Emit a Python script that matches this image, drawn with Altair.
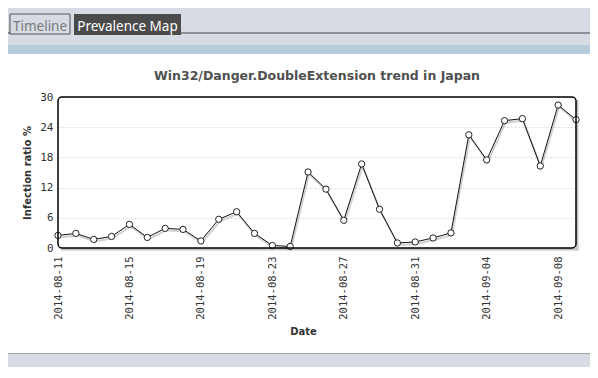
import altair as alt
import pandas as pd

dates = ["2014-08-11", "2014-08-12", "2014-08-13", "2014-08-14", "2014-08-15",
         "2014-08-16", "2014-08-17", "2014-08-18", "2014-08-19", "2014-08-20",
         "2014-08-21", "2014-08-22", "2014-08-23", "2014-08-24", "2014-08-25",
         "2014-08-26", "2014-08-27", "2014-08-28", "2014-08-29", "2014-08-30",
         "2014-08-31", "2014-09-01", "2014-09-02", "2014-09-03", "2014-09-04",
         "2014-09-05", "2014-09-06", "2014-09-07", "2014-09-08", "2014-09-09"]
ratios = [2.5, 2.9, 1.7, 2.3, 4.7, 2.1, 3.9, 3.7, 1.4, 5.7,
          7.2, 2.9, 0.5, 0.3, 15.1, 11.7, 5.5, 16.7, 7.7, 1.0,
          1.2, 2.0, 3.0, 22.5, 17.5, 25.3, 25.7, 16.3, 28.4, 25.5]
x_ticks = ["2014-08-11", "2014-08-15", "2014-08-19", "2014-08-23",
           "2014-08-27", "2014-08-31", "2014-09-04", "2014-09-08"]
y_ticks = [0, 6, 12, 18, 24, 30]

title_text = "Win32/Danger.DoubleExtension trend in Japan"
tab_labels = ["Timeline", "Prevalence Map"]

W, H = 518, 151
GRAY = "#d6dbe4"
df = pd.DataFrame({"Date": dates, "ratio": ratios})
one = alt.Data(values=[{"k": 0}])

def box(x, x2, y, y2, **kw):
    return alt.Chart(one).mark_rect(**kw).encode(
        x=alt.value(x), x2=alt.value(x2), y=alt.value(y), y2=alt.value(y2))

def label(txt, x, y, **kw):
    return alt.Chart(one).mark_text(text=txt, **kw).encode(
        x=alt.value(x), y=alt.value(y))

# page surroundings (gray) drawn around a white panel
top_bg = box(-60, 540, -100, -52, fill=GRAY)
left_bg = box(-60, -52, -52, 270, fill=GRAY)
right_bg = box(533, 540, -52, 270, fill=GRAY)
bottom_bg = box(-60, 540, 257, 270, fill=GRAY)
panel_l = box(-52, -51, -43, 257, fill="#a4a4a4")
panel_r = box(532, 533, -43, 257, fill="#a4a4a4")
panel_b = box(-52, 533, 256, 257, fill="#a4a4a4")
bluebar = box(-52, 533, -52, -43, fill="#b8cddc")
tab1 = box(-48, 12, -83, -63, fill=GRAY, stroke="#555555", strokeWidth=1)
tab2 = box(16, 123, -83, -62, fill="#4b4b4b")
line_a = box(-52, -48, -64.5, -63.5, fill="#444444")
line_b = box(123, 532, -64.5, -63.5, fill="#444444")
tab1_t = label(tab_labels[0], -18, -66, font="Noto Sans", fontSize=13.5,
               color="#7a7a7a", align="center", baseline="alphabetic")
tab2_t = label(tab_labels[1], 69.5, -66, font="Noto Sans", fontSize=13.5,
               color="white", align="center", baseline="alphabetic")
title = label(title_text, W / 2, -21, font="DejaVu Sans", fontSize=12.5,
              fontWeight="bold", color="#505050", align="center", baseline="middle")

shadow_b = box(3, W + 2, H, H + 2.5, fill="#c4c4c4")
shadow_r = box(W, W + 2.5, 3, H + 2.5, fill="#c4c4c4")
frame = box(0, W, 0, H, filled=False, stroke="black", strokeWidth=1.5, cornerRadius=4)

x_enc = alt.X("Date:O", title="Date",
              scale=alt.Scale(type="point", padding=0),
              axis=alt.Axis(values=x_ticks, labelAngle=-90, ticks=False, domain=False,
                            grid=False, labelPadding=8, labelFont="DejaVu Sans Mono",
                            labelFontSize=10.5, labelColor="#333333",
                            titleFont="DejaVu Sans", titleFontSize=10, titleFontWeight="bold",
                            titleColor="#333333", titleX=245, titleY=83.5,
                            titleBaseline="middle", titleAlign="center"))
y_enc = alt.Y("ratio:Q", title="Infection ratio %",
              scale=alt.Scale(domain=[0, 30], nice=False, zero=True),
              axis=alt.Axis(values=y_ticks, ticks=False, domain=False, grid=True,
                            gridColor="#dddddd", gridDash=[2, 2], gridWidth=1,
                            labelPadding=5, labelFont="DejaVu Sans Mono", labelFontSize=11,
                            labelColor="#333333", titleFont="DejaVu Sans", titleFontSize=10,
                            titleFontWeight="bold", titleColor="#333333", titleX=-31,
                            titleY=H / 2, titleAngle=-90, titleBaseline="middle",
                            titleAlign="center"))

base = alt.Chart(df)
line_shadow = base.mark_line(color="#999999", strokeWidth=2, opacity=0.45,
                             xOffset=1, yOffset=2).encode(x=x_enc, y=y_enc)
line = base.mark_line(color="#111111", strokeWidth=1).encode(x=x_enc, y=y_enc)
points = base.mark_point(filled=False, fill="white", fillOpacity=1, stroke="#222222",
                         strokeWidth=1, size=40, opacity=1).encode(x=x_enc, y=y_enc)

chart = alt.layer(
    top_bg, left_bg, right_bg, bottom_bg, panel_l, panel_r, panel_b, bluebar,
    tab1, tab2, line_a, line_b, tab1_t, tab2_t, title,
    shadow_b, shadow_r, line_shadow, line, points, frame
).properties(
    width=W, height=H,
    autosize=alt.AutoSizeParams(type="none"),
    padding={"left": 50, "top": 89, "right": 14, "bottom": 122},
    background="white",
).configure_view(stroke=None)

chart.save("out.html", embed_options={"renderer": "svg", "actions": False})
